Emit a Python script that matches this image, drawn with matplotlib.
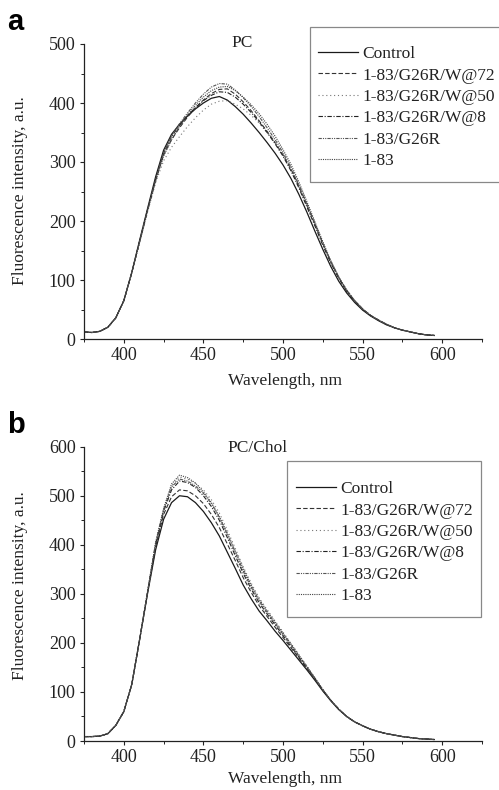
import matplotlib
matplotlib.use("Agg")
import matplotlib.pyplot as plt
from matplotlib.patches import Rectangle
from matplotlib.lines import Line2D
import numpy as np

plt.rcParams['font.family'] = ['Liberation Serif', 'DejaVu Serif']

wavelength = list(range(375, 600, 5))

labels = ["Control", "1-83/G26R/W@72", "1-83/G26R/W@50", "1-83/G26R/W@8", "1-83/G26R", "1-83"]

# Panel a (PC)
control_a = [12, 11, 13, 20, 36, 65, 113, 168, 222, 275, 320, 347, 364, 378, 390, 400, 408, 411, 405, 394,
             381, 366, 350, 333, 315, 295, 272, 245, 215, 183, 152, 123, 98, 78, 62, 49, 39, 31, 24, 19,
             15, 12, 9, 7, 6]
w72_a = [12, 11, 13, 20, 36, 65, 112, 166, 219, 270, 312, 338, 358, 376, 392, 405, 416, 423, 424, 415,
         402, 387, 370, 352, 333, 312, 288, 259, 227, 195, 162, 131, 104, 82, 65, 51, 40, 32, 25, 19,
         15, 12, 9, 7, 6]
w50_a = [12, 11, 13, 20, 36, 64, 111, 164, 216, 265, 302, 325, 343, 360, 375, 388, 398, 403, 404, 398,
         390, 379, 366, 350, 333, 313, 290, 261, 229, 196, 163, 132, 105, 83, 65, 51, 40, 32, 25, 19,
         15, 12, 9, 7, 6]
w8_a = [12, 11, 13, 20, 36, 65, 112, 166, 219, 270, 315, 343, 362, 378, 392, 404, 413, 419, 418, 410,
        398, 384, 368, 350, 331, 310, 285, 256, 224, 192, 159, 129, 103, 81, 64, 50, 40, 32, 25, 19,
        15, 12, 9, 7, 6]
g26r_a = [12, 11, 13, 20, 36, 65, 112, 166, 219, 270, 316, 344, 365, 383, 400, 415, 427, 433, 432, 422,
          409, 394, 377, 358, 338, 316, 291, 261, 229, 196, 162, 131, 105, 83, 65, 51, 40, 32, 25, 19,
          15, 12, 9, 7, 6]
wt_a = [12, 11, 13, 20, 36, 65, 112, 166, 219, 268, 310, 338, 360, 380, 396, 410, 421, 427, 428, 421,
        410, 397, 382, 364, 344, 321, 296, 266, 233, 199, 165, 133, 105, 83, 65, 51, 40, 32, 25, 19,
        15, 12, 9, 7, 6]

# Panel b (PC/Chol)
control_b = [9, 9, 10, 15, 32, 60, 115, 208, 302, 390, 452, 486, 500, 498, 486, 468, 445, 418, 385, 352,
             318, 290, 265, 245, 224, 205, 185, 165, 145, 124, 102, 82, 64, 50, 39, 31, 24, 19, 15, 12,
             9, 7, 5, 4, 3]
w72_b = [9, 9, 10, 15, 32, 60, 115, 208, 304, 396, 462, 498, 512, 510, 500, 484, 462, 435, 402, 368,
         333, 303, 276, 254, 232, 211, 190, 169, 148, 126, 103, 83, 65, 50, 39, 31, 24, 19, 15, 12,
         9, 7, 5, 4, 3]
w50_b = [9, 9, 10, 15, 32, 60, 115, 208, 306, 402, 470, 520, 538, 534, 525, 512, 492, 465, 430, 393,
         355, 322, 292, 268, 245, 222, 199, 176, 153, 129, 105, 83, 65, 50, 39, 31, 24, 19, 15, 12,
         9, 7, 5, 4, 3]
w8_b = [9, 9, 10, 15, 32, 60, 115, 208, 305, 400, 468, 512, 530, 527, 517, 500, 478, 450, 415, 378,
        342, 310, 282, 259, 237, 215, 193, 171, 149, 127, 104, 83, 65, 50, 39, 31, 24, 19, 15, 12,
        9, 7, 5, 4, 3]
g26r_b = [9, 9, 10, 15, 32, 60, 115, 208, 306, 404, 472, 518, 534, 530, 520, 505, 484, 456, 421, 384,
          347, 314, 286, 262, 240, 218, 196, 173, 151, 128, 105, 83, 65, 50, 39, 31, 24, 19, 15, 12,
          9, 7, 5, 4, 3]
wt_b = [9, 9, 10, 15, 32, 60, 115, 208, 306, 405, 474, 524, 542, 537, 526, 508, 486, 458, 424, 388,
        352, 318, 289, 265, 243, 220, 198, 175, 152, 129, 105, 83, 65, 50, 39, 31, 24, 19, 15, 12,
        9, 7, 5, 4, 3]

styles = [
    dict(color='#1a1a1a', lw=0.9, ls='-'),
    dict(color='#333333', lw=0.8, ls=(0, (4, 2))),
    dict(color='#777777', lw=0.8, ls=(0, (1, 2.5))),
    dict(color='#222222', lw=0.8, ls=(0, (4, 1.5, 1, 1.5))),
    dict(color='#555555', lw=0.8, ls=(0, (3, 1, 1, 1, 1, 1))),
    dict(color='#444444', lw=0.8, ls=(0, (1, 1))),
]

W, H = 499, 790
fig = plt.figure(figsize=(W / 100, H / 100), dpi=100)
FS = 12.5
TXT = '#222222'

def fx(px):
    return px / W

def fy(py):
    return 1 - py / H

def make_panel(letter, top, bottom, ymax, series, title, title_xy, letter_y, legend_box,
               legend_anchor, xlabel_y, ylabel_y):
    ax = fig.add_axes([fx(84), fy(bottom), fx(482) - fx(84), fy(top) - fy(bottom)])
    for s, st in zip(series, styles):
        ax.plot(wavelength, s, **st)
    ax.set_xlim(375, 625)
    ax.set_ylim(0, ymax)
    ax.set_xticks([400, 450, 500, 550, 600])
    ax.set_xticks(np.arange(375, 626, 25), minor=True)
    ax.set_yticks(np.arange(0, ymax + 1, 100))
    ax.set_yticks(np.arange(0, ymax + 1, 50), minor=True)
    for sp in ['top', 'right']:
        ax.spines[sp].set_visible(False)
    for sp in ['left', 'bottom']:
        ax.spines[sp].set_linewidth(0.9)
        ax.spines[sp].set_color(TXT)
    ax.tick_params(which='major', direction='out', length=3.0, width=0.8, labelsize=13, colors=TXT, pad=3)
    ax.tick_params(which='minor', direction='out', length=2.2, width=0.7, colors=TXT)
    fig.text(fx(20), fy(ylabel_y), "Fluorescence intensity, a.u.", fontsize=FS, color=TXT,
             rotation=90, ha='center', va='center')
    fig.text(fx(285), fy(xlabel_y), "Wavelength, nm", fontsize=FS, color=TXT, ha='center', va='center')
    fig.text(fx(title_xy[0]), fy(title_xy[1]), title, fontsize=FS, color=TXT, ha='center', va='center')
    fig.text(fx(7), fy(letter_y), letter, fontsize=21, fontweight='bold', family='Liberation Sans',
             ha='left', va='center')
    x0, y0, x1, y1 = legend_box
    fig.patches.append(Rectangle((fx(x0), fy(y1)), fx(x1) - fx(x0), fy(y0) - fy(y1),
                                 transform=fig.transFigure, fill=False, edgecolor='#888888', lw=0.9))
    handles = [Line2D([0], [0], **st) for st in styles]
    fig.legend(handles, labels, loc='upper left', bbox_to_anchor=(fx(legend_anchor[0]), fy(legend_anchor[1])),
               bbox_transform=fig.transFigure, frameon=False, fontsize=FS, handlelength=2.3,
               handletextpad=0.25, labelspacing=0.3, borderpad=0, borderaxespad=0, labelcolor=TXT)
    return ax

make_panel('a', 44, 339, 500, [control_a, w72_a, w50_a, w8_a, g26r_a, wt_a], "PC", (242, 43), 22,
           (310, 27, 502, 182), (318, 46), 381, 191)
make_panel('b', 446.7, 741, 600, [control_b, w72_b, w50_b, w8_b, g26r_b, wt_b], "PC/Chol", (258, 448), 425,
           (287, 461, 481, 617), (296, 481), 779, 586)

fig.savefig("out.png", dpi=100)
